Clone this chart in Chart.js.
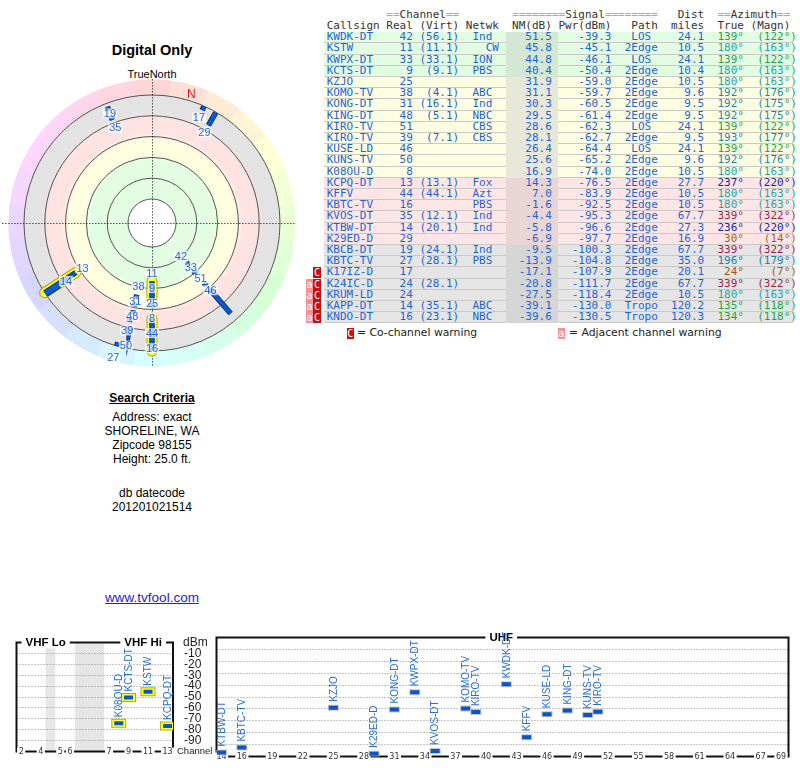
<!DOCTYPE html>
<html>
<head>
<meta charset="utf-8">
<title>Digital Only</title>
<script src="https://cdn.jsdelivr.net/npm/chart.js@4.4.1/dist/chart.umd.min.js"></script>
<style>
  html, body { margin: 0; padding: 0; background: #fff; }
  body { position: relative; width: 800px; height: 768px; overflow: hidden;
         font-family: "Liberation Sans", Arial, sans-serif; color: #000; }
  .abs { position: absolute; }
  .mono { font-family: "DejaVu Sans Mono", monospace; font-size: 11px; }
  .hdr { position: absolute; left: 324px; padding-left: 2.7px; white-space: pre; color: #333; line-height: 11px; }
  .eq { color: #a8a8a8; }
  .row { position: absolute; left: 324px; width: 469px; height: 11.2px; line-height: 10.4px;
         white-space: pre; padding-left: 2.7px; box-sizing: border-box; color: #1f63d6;
         border-bottom: 1px solid #c9c9c9; }
  .nmcell { position: absolute; top: 0; bottom: -1px; left: calc(2.7px + 27ch); width: 8ch; }
  .txt { position: relative; }
  .warn { position: absolute; width: 7.5px; height: 11px; line-height: 11px; font-size: 10px;
          color: #fff; text-align: center; font-family: "DejaVu Sans Mono", monospace; }
  .legend { position: absolute; top: 327px; font-family: "DejaVu Sans", sans-serif; font-size: 10.8px; line-height: 12px; color: #222; }
  .crit { position: absolute; left: 52px; width: 200px; text-align: center; font-size: 12px; line-height: 14.2px; }
</style>
</head>
<body>
<div class="abs" style="left:2px;top:41px;width:300px;text-align:center;font-weight:bold;font-size:14.5px;line-height:18px;">Digital Only</div>
<div class="abs" style="left:2px;top:67px;width:300px;text-align:center;font-size:11px;line-height:14px;">TrueNorth</div>
<div class="abs" style="left:2px;top:73px;width:300px;height:300px;"><canvas id="radar" width="300" height="300"></canvas></div>

<div id="criteria"></div>
<a class="abs" href="#" style="left:52px;top:590px;width:200px;text-align:center;font-size:13.5px;line-height:16px;color:#2424c8;">www.tvfool.com</a>

<div id="table"></div>

<div class="abs" style="left:0;top:626px;width:213px;height:142px;"><canvas id="vhf" width="213" height="142"></canvas></div>
<div class="abs" style="left:205px;top:626px;width:595px;height:142px;"><canvas id="uhf" width="595" height="142"></canvas></div>

<script>
// ---- station table (one entry per row) ----
const callsigns = ["KWDK-DT", "KSTW", "KWPX-DT", "KCTS-DT", "KZJO", "KOMO-TV", "KONG-DT", "KING-DT",
  "KIRO-TV", "KIRO-TV", "KUSE-LD", "KUNS-TV", "K08OU-D", "KCPQ-DT", "KFFV", "KBTC-TV", "KVOS-DT",
  "KTBW-DT", "K29ED-D", "KBCB-DT", "KBTC-TV", "K17IZ-D", "K24IC-D", "KRUM-LD", "KAPP-DT", "KNDO-DT"];
const realCh = [42, 11, 33, 9, 25, 38, 31, 48, 51, 39, 46, 50, 8, 13, 44, 16, 35, 14, 29, 19, 27, 17, 24, 24, 14, 16];
const virtCh = ["56.1", "11.1", "33.1", "9.1", "", "4.1", "16.1", "5.1", "", "7.1", "", "", "", "13.1", "44.1",
  "", "12.1", "20.1", "", "24.1", "28.1", "", "28.1", "", "35.1", "23.1"];
const networks = ["Ind", "CW", "ION", "PBS", "", "ABC", "Ind", "NBC", "CBS", "CBS", "", "", "", "Fox", "Azt",
  "PBS", "Ind", "Ind", "", "Ind", "PBS", "", "", "", "ABC", "NBC"];
const noiseMargin = [51.5, 45.8, 44.8, 40.4, 31.9, 31.1, 30.3, 29.5, 28.6, 28.1, 26.4, 25.6, 16.9, 14.3, 7.0,
  -1.6, -4.4, -5.8, -6.9, -9.5, -13.9, -17.1, -20.8, -27.5, -39.1, -39.6];
const powerDbm = [-39.3, -45.1, -46.1, -50.4, -59.0, -59.7, -60.5, -61.4, -62.3, -62.7, -64.4, -65.2, -74.0,
  -76.5, -83.9, -92.5, -95.3, -96.6, -97.7, -100.3, -104.8, -107.9, -111.7, -118.4, -130.0, -130.5];
const paths = ["LOS", "2Edge", "LOS", "2Edge", "2Edge", "2Edge", "2Edge", "2Edge", "LOS", "2Edge", "LOS",
  "2Edge", "2Edge", "2Edge", "2Edge", "2Edge", "2Edge", "2Edge", "2Edge", "2Edge", "2Edge", "2Edge", "2Edge",
  "2Edge", "Tropo", "Tropo"];
const distMiles = [24.1, 10.5, 24.1, 10.4, 10.5, 9.6, 9.5, 9.5, 24.1, 9.5, 24.1, 9.6, 10.5, 27.7, 10.5, 10.5,
  67.7, 27.3, 16.9, 67.7, 35.0, 20.1, 67.7, 10.5, 120.2, 120.3];
const azTrue = [139, 180, 139, 180, 180, 192, 192, 192, 139, 193, 139, 192, 180, 237, 180, 180, 339, 236, 30,
  339, 196, 24, 339, 180, 135, 134];
const azMagn = [122, 163, 122, 163, 163, 176, 175, 175, 122, 177, 122, 176, 163, 220, 163, 163, 322, 220, 14,
  322, 179, 7, 322, 163, 118, 118];
const rowBands = ["green", "green", "green", "green", "yellow", "yellow", "yellow", "yellow", "yellow",
  "yellow", "yellow", "yellow", "yellow", "pink", "pink", "pink", "pink", "pink", "pink", "gray", "gray",
  "gray", "gray", "gray", "gray", "gray"];
const warnings = ["", "", "", "", "", "", "", "", "", "", "", "", "", "", "", "", "", "", "", "", "", "C",
  "aC", "aC", "aC", "aC"];
// radial length (dB) of each station's line on the radar
const polarTailDb = [3, 10, 3, 8, 3, 3, 3, 3, 3, 3, 31, 3, 40, 36, 3, 3, 3, 18, 14, 4, 4, 4, 0, 0, 0, 0];

// ---- axes ----
const ringLevelsDbm = [-20, -40, -60, -80, -100, -120];
const radarOuterDbm = -135;
const spectrumTicksDbm = [-10, -20, -30, -40, -50, -60, -70, -80, -90];
const vhfTickChannels = [2, 4, 5, 6, 7, 9, 11, 13];
const uhfTickChannels = [14, 16, 19, 22, 25, 28, 31, 34, 37, 40, 43, 46, 49, 52, 55, 58, 61, 64, 67, 69];

const searchLines = ["Address: exact", "SHORELINE, WA", "Zipcode 98155", "Height: 25.0 ft."];
const dbDatecode = "201201021514";

const bandColors = {
  green: { row: "#e3fde3", nm: "#d3e7d3", zone: "#e2fde2" },
  yellow: { row: "#fefee3", nm: "#e7e7da", zone: "#ffffe0" },
  pink: { row: "#ffe6e6", nm: "#e9d5d5", zone: "#ffe3e3" },
  gray: { row: "#e5e5e5", nm: "#d5d5d5", zone: "#e3e3e3" },
};
const azColor = (az) => `hsl(${az}, 72%, 38%)`;

// ---- search criteria text ----
const crit = document.getElementById("criteria");
crit.innerHTML =
  `<div class="crit" style="top:391px;font-weight:bold;text-decoration:underline;">Search Criteria</div>` +
  searchLines.map((t, k) => `<div class="crit" style="top:${409.5 + k * 14.2}px;">${t}</div>`).join("") +
  `<div class="crit" style="top:486px;">db datecode</div>` +
  `<div class="crit" style="top:499.5px;">${dbDatecode}</div>`;

// ---- table ----
const tableEl = document.getElementById("table");
const esc = (s) => s.replace(/&/g, "&amp;").replace(/</g, "&lt;");
const grayEq = (s) => esc(s).replace(/=+/g, (m) => `<span class="eq">${m}</span>`);

const head1 = " ".repeat(9) + "==Channel==" + " ".repeat(8) + "========Signal========" + "   Dist  ==Azimuth==";
const head2 = "Callsign Real (Virt) Netwk  NM(dB) Pwr(dBm)   Path  miles  True (Magn)";
tableEl.innerHTML += `<div class="hdr mono" style="top:9px;">${grayEq(head1)}</div>`;
tableEl.innerHTML += `<div class="hdr mono" style="top:20px;">${esc(head2)}</div>`;

callsigns.forEach((cs, i) => {
  const net = networks[i];
  const netCol = net.length === 2 ? net.padStart(5) : (" " + net).padEnd(5);
  const pathCol = paths[i].length === 3 ? " " + paths[i] + " " : paths[i];
  const left = cs.padEnd(8) + " " + String(realCh[i]).padStart(4) + " " +
    (virtCh[i] ? `(${virtCh[i]})` : "").padStart(6) + " " + netCol + " ";
  const nm = noiseMargin[i].toFixed(1).padStart(7) + " ";
  const mid = powerDbm[i].toFixed(1).padStart(8) + "  " + pathCol + distMiles[i].toFixed(1).padStart(7);
  const az = (azTrue[i] + "°").padStart(6) + " " + `(${azMagn[i]}°)`.padStart(7);
  const top = 32.2 + i * 11.2;
  const band = bandColors[rowBands[i]];
  tableEl.innerHTML +=
    `<div class="row mono" style="top:${top}px;background:${band.row};">` +
    `<div class="nmcell" style="background:${band.nm};"></div>` +
    `<span class="txt">${esc(left + nm + mid)}<span style="color:${azColor(azTrue[i])}">${az}</span></span></div>`;
  const w = warnings[i];
  [...w].reverse().forEach((c, k) => {
    const bg = c === "C" ? "#c80f0f" : "#f39393";
    tableEl.innerHTML += `<div class="warn" style="left:${313.3 - k * 7.5}px;top:${top}px;background:${bg};">${c}</div>`;
  });
});
tableEl.innerHTML +=
  `<div class="warn" style="left:346.5px;top:327.5px;background:#c80f0f;">C</div>` +
  `<div class="legend" style="left:357px;">= Co-channel warning</div>` +
  `<div class="warn" style="left:557.5px;top:327.5px;background:#f39393;">a</div>` +
  `<div class="legend" style="left:569px;">= Adjacent channel warning</div>`;

// ---- radar (polar) plot ----
const PX_PER_DB = 1.04;
const CENTER_DBM = 3.1;
const radU = (p) => CENTER_DBM - p;
const polarHalfU = 150 / PX_PER_DB;
const edgeU = radU(ringLevelsDbm[ringLevelsDbm.length - 1]);
const LABEL_GAP_U = 15 / PX_PER_DB;
const MARK_GAP_U = 8 / PX_PER_DB;
const MARK_MIN_U = 4 / PX_PER_DB;

const polarIdx = callsigns.map((_, i) => i).filter((i) => powerDbm[i] > -110);
const byStrength = [...polarIdx].sort((a, b) => powerDbm[b] - powerDbm[a]);
const labelU = {};
byStrength.forEach((i, k) => {
  let r = radU(powerDbm[i]);
  byStrength.slice(0, k).forEach((j) => {
    const d = Math.abs(((azTrue[i] - azTrue[j] + 540) % 360) - 180);
    if (d <= 5) r = Math.max(r, labelU[j] + LABEL_GAP_U);
  });
  labelU[i] = r;
});
const polarXY = (az, r) => ({ x: r * Math.sin(az * Math.PI / 180), y: r * Math.cos(az * Math.PI / 180) });
const markSegment = (i) => {
  const base = (radU(powerDbm[i]) + labelU[i]) / 2 + MARK_GAP_U;
  const start = Math.min(base, edgeU - MARK_MIN_U);
  const end = Math.min(start + Math.max(polarTailDb[i], MARK_MIN_U), edgeU);
  return [polarXY(azTrue[i], start), polarXY(azTrue[i], end)];
};

const radarDatasets = [];
polarIdx.forEach((i) => {
  const seg = markSegment(i);
  if (realCh[i] <= 13) {
    radarDatasets.push({ data: seg, showLine: true, borderColor: "#a9a900", borderWidth: 11,
      borderCapStyle: "round", pointRadius: 0, order: 4 });
    radarDatasets.push({ data: seg, showLine: true, borderColor: "#ffff30", borderWidth: 9,
      borderCapStyle: "round", pointRadius: 0, order: 3 });
  }
  radarDatasets.push({ data: seg, showLine: true, borderColor: "#002f7a", borderWidth: 5.5,
    pointRadius: 0, order: 2 });
  radarDatasets.push({ data: seg, showLine: true, borderColor: "#0b5cc8", borderWidth: 3.5,
    pointRadius: 0, order: 1 });
});

const radarBackground = {
  id: "radarBackground",
  beforeDatasetsDraw(chart) {
    const { ctx, scales: { x, y } } = chart;
    const cx = x.getPixelForValue(0);
    const cy = y.getPixelForValue(0);
    const rpx = (u) => Math.abs(x.getPixelForValue(u) - cx);
    const rOuter = rpx(radU(radarOuterDbm));
    const rEdge = rpx(edgeU);
    ctx.save();
    // azimuth colour band
    for (let a = 0; a < 360; a += 15) {
      const a0 = (a - 7.5 - 90) * Math.PI / 180;
      const a1 = (a + 7.5 - 90) * Math.PI / 180;
      ctx.beginPath();
      ctx.moveTo(cx, cy);
      ctx.arc(cx, cy, rOuter, a0, a1 + 0.01);
      ctx.closePath();
      ctx.fillStyle = `hsl(${a}, 100%, 92%)`;
      ctx.fill();
    }
    // signal zones
    const g = ctx.createRadialGradient(cx, cy, 0, cx, cy, rEdge);
    const stop = (p, off, c) => g.addColorStop(Math.max(0, Math.min(1, (rpx(radU(p)) + off) / rEdge)), c);
    const zones = [bandColors.green.zone, bandColors.yellow.zone, bandColors.pink.zone, bandColors.gray.zone];
    stop(ringLevelsDbm[0], 0, zones[0]);
    for (let k = 2; k < 5; k++) {
      stop(ringLevelsDbm[k], -4, zones[k - 2]);
      stop(ringLevelsDbm[k], 4, zones[k - 1]);
    }
    stop(ringLevelsDbm[5], 0, zones[3]);
    ctx.beginPath();
    ctx.arc(cx, cy, rEdge, 0, Math.PI * 2);
    ctx.fillStyle = g;
    ctx.fill();
    ctx.beginPath();
    ctx.arc(cx, cy, rpx(radU(ringLevelsDbm[0])), 0, Math.PI * 2);
    ctx.fillStyle = "#fff";
    ctx.fill();
    // rings
    ctx.strokeStyle = "#555";
    ctx.lineWidth = 1;
    ringLevelsDbm.forEach((p) => {
      ctx.beginPath();
      ctx.arc(cx, cy, rpx(radU(p)), 0, Math.PI * 2);
      ctx.stroke();
    });
    // crosshair
    ctx.setLineDash([1, 2]);
    ctx.strokeStyle = "#000";
    ctx.beginPath();
    ctx.moveTo(Math.round(cx) + 0.5, cy - rOuter);
    ctx.lineTo(Math.round(cx) + 0.5, cy + rOuter);
    ctx.moveTo(cx - rOuter - 6, Math.round(cy) + 0.5);
    ctx.lineTo(cx + rOuter, Math.round(cy) + 0.5);
    ctx.stroke();
    ctx.restore();
  },
  afterDatasetsDraw(chart) {
    const { ctx, scales: { x, y } } = chart;
    ctx.save();
    ctx.font = '11px "Liberation Sans", Arial, sans-serif';
    ctx.textAlign = "center";
    ctx.textBaseline = "middle";
    polarIdx.forEach((i) => {
      const p = polarXY(azTrue[i], labelU[i]);
      const px = x.getPixelForValue(p.x);
      const py = y.getPixelForValue(p.y);
      const t = String(realCh[i]);
      const w = ctx.measureText(t).width;
      ctx.fillStyle = "rgba(255,255,255,0.72)";
      ctx.fillRect(px - w / 2 - 1, py - 5, w + 2, 10);
      ctx.fillStyle = "#2266dd";
      ctx.fillText(t, px, py + 0.5);
    });
    // magnetic north
    const decl = azTrue[0] - azMagn[0];
    const n = polarXY(decl, radU(-126));
    ctx.font = '12px "Liberation Sans", Arial, sans-serif';
    ctx.fillStyle = "#dd2222";
    ctx.fillText("N", x.getPixelForValue(n.x), y.getPixelForValue(n.y));
    ctx.restore();
  },
};

new Chart(document.getElementById("radar"), {
  type: "scatter",
  data: { datasets: radarDatasets },
  options: {
    responsive: false,
    animation: false,
    events: [],
    plugins: { legend: { display: false }, tooltip: { enabled: false } },
    scales: {
      x: { type: "linear", min: -polarHalfU, max: polarHalfU, display: false },
      y: { type: "linear", min: -polarHalfU, max: polarHalfU, display: false },
    },
  },
  plugins: [radarBackground],
});

// ---- spectrum panels ----
const vhfSlot = (ch) => (ch <= 4 ? ch - 2 : ch <= 6 ? ch - 1 : ch + 2);
const uhfSlot = (ch) => ch;
const spectrumIdx = callsigns.map((_, i) => i).filter((i) => powerDbm[i] > -100);
const vhfIdx = spectrumIdx.filter((i) => realCh[i] <= 13);
const uhfIdx = spectrumIdx.filter((i) => realCh[i] >= 14);

const yScale = (showLabels) => ({
  type: "linear",
  min: -100,
  max: 0,
  position: "right",
  afterBuildTicks: (axis) => { axis.ticks = spectrumTicksDbm.map((v) => ({ value: v })); },
  ticks: { display: false },
  grid: { color: "#8a8a8a", lineWidth: 1, drawTicks: false },
  border: { display: false, dash: [1, 2] },
});

function spectrumPlugins(stations, slotOf, ticks, titles, gaps, withAxisText) {
  return [{
    id: "spectrumFrame",
    beforeDraw(chart) {
      const { ctx, chartArea: a, scales: { x } } = chart;
      ctx.save();
      ctx.fillStyle = "#e6e6e6";
      gaps.forEach(([s0, s1]) => {
        const x0 = x.getPixelForValue(s0);
        const x1 = x.getPixelForValue(s1);
        ctx.fillRect(x0, a.top, x1 - x0, a.bottom - a.top);
      });
      ctx.restore();
    },
    beforeDatasetsDraw(chart) {
      const { ctx, chartArea: a, scales: { x } } = chart;
      ctx.save();
      ctx.strokeStyle = "#111";
      ctx.lineWidth = 2;
      ctx.strokeRect(a.left, a.top, a.right - a.left, a.bottom - a.top);
      ctx.textAlign = "center";
      ctx.textBaseline = "middle";
      ctx.font = 'bold 11.5px "Liberation Sans", Arial, sans-serif';
      titles.forEach(([label, s0, s1]) => {
        const px = (x.getPixelForValue(s0) + x.getPixelForValue(s1)) / 2;
        const w = ctx.measureText(label).width;
        ctx.fillStyle = "#fff";
        ctx.fillRect(px - w / 2 - 4, a.top - 6, w + 8, 12);
        ctx.fillStyle = "#000";
        ctx.fillText(label, px, a.top + 0.5);
      });
      ctx.font = '8px "DejaVu Sans", sans-serif';
      ticks.forEach((ch) => {
        const px = x.getPixelForValue(slotOf(ch));
        const w = ctx.measureText(String(ch)).width;
        ctx.fillStyle = "#fff";
        ctx.fillRect(px - w / 2 - 1.5, a.bottom - 4, w + 3, 8);
        ctx.fillStyle = "#333";
        ctx.fillText(String(ch), px, a.bottom + 0.5);
      });
      ctx.restore();
    },
    afterDatasetsDraw(chart) {
      const { ctx, chartArea: a, scales: { x, y } } = chart;
      ctx.save();
      ctx.font = '10px "Liberation Sans", Arial, sans-serif';
      ctx.fillStyle = "#2a6fd6";
      ctx.textAlign = "left";
      ctx.textBaseline = "middle";
      stations.forEach((i) => {
        const px = x.getPixelForValue(slotOf(realCh[i]));
        const py = y.getPixelForValue(powerDbm[i]);
        ctx.save();
        ctx.translate(px, py - 6);
        ctx.rotate(-Math.PI / 2);
        ctx.fillText(callsigns[i], 0, 0.5);
        ctx.restore();
      });
      if (withAxisText) {
        ctx.fillStyle = "#222";
        ctx.font = '12px "Liberation Sans", Arial, sans-serif';
        ctx.fillText("dBm", a.right + 10, a.top);
        spectrumTicksDbm.forEach((v) => ctx.fillText(String(v), a.right + 11, y.getPixelForValue(v)));
        ctx.font = '9.5px "Liberation Sans", Arial, sans-serif';
        ctx.fillText("Channel", a.right + 4, a.bottom);
      }
      ctx.restore();
    },
  }];
}

const markerSets = (points, vhf) => {
  const sets = [{ data: points, pointStyle: "line", pointRadius: 4.5, pointBorderWidth: 4,
    pointBorderColor: "#0b55c4", order: 1 }];
  if (vhf) {
    sets.push({ data: points, pointStyle: "line", pointRadius: 6.5, pointBorderWidth: 7,
      pointBorderColor: "#ffff30", order: 2 });
    sets.push({ data: points, pointStyle: "line", pointRadius: 7.5, pointBorderWidth: 9,
      pointBorderColor: "#b0b000", order: 3 });
  } else {
    sets.push({ data: points, pointStyle: "line", pointRadius: 5.5, pointBorderWidth: 6,
      pointBorderColor: "#c4c4c4", order: 2 });
  }
  return sets;
};

const baseOptions = (xMin, xMax, padding) => ({
  responsive: false,
  animation: false,
  events: [],
  layout: { padding },
  plugins: { legend: { display: false }, tooltip: { enabled: false } },
  scales: {
    x: { type: "linear", min: xMin, max: xMax, display: false },
    y: yScale(),
  },
});

new Chart(document.getElementById("vhf"), {
  type: "scatter",
  data: { datasets: markerSets(vhfIdx.map((i) => ({ x: vhfSlot(realCh[i]), y: powerDbm[i] })), true) },
  options: baseOptions(-0.486, 15.56, { left: 8, right: 40, top: 7, bottom: 10 }),
  plugins: spectrumPlugins(vhfIdx, vhfSlot, vhfTickChannels,
    [["VHF Lo", vhfSlot(2), vhfSlot(6)], ["VHF Hi", vhfSlot(7) + 0.5, vhfSlot(13) + 0.5]],
    [[vhfSlot(4) + 0.5, vhfSlot(5) - 0.5], [vhfSlot(6) + 0.5, vhfSlot(7) - 0.5]], true),
});

new Chart(document.getElementById("uhf"), {
  type: "scatter",
  data: { datasets: markerSets(uhfIdx.map((i) => ({ x: uhfSlot(realCh[i]), y: powerDbm[i] })), false) },
  options: baseOptions(13.51, 69.74, { left: 9, right: 8, top: 7, bottom: 10 }),
  plugins: spectrumPlugins(uhfIdx, uhfSlot, uhfTickChannels, [["UHF", 14, 69]], [], false),
});
</script>
</body>
</html>
